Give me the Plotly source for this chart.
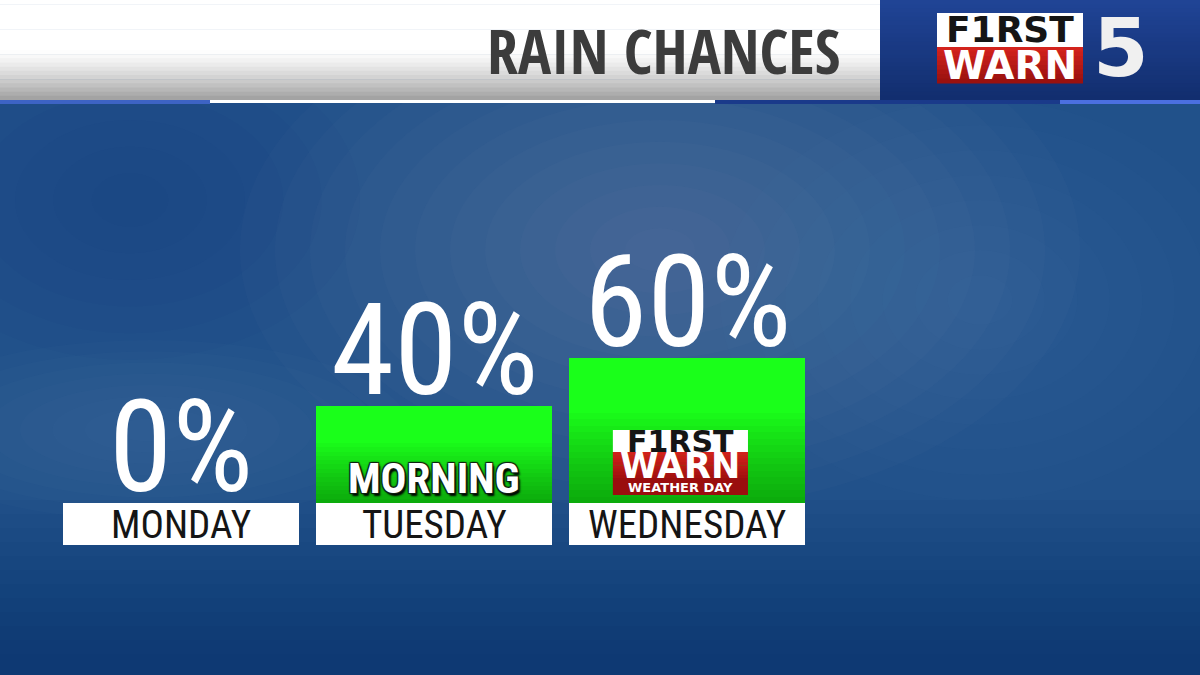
import plotly.graph_objects as go

# ---------------- data ----------------
days = ["MONDAY", "TUESDAY", "WEDNESDAY"]
chance = [0, 40, 60]
notes = ["", "MORNING", ""]
first_warn_day = [False, False, True]
title = "RAIN CHANCES"

# ---------------- geometry / styles ----------------
W, H = 1200, 675
PX_PER_X = 253.0          # pixels per category step
X0_PX = 181.0             # pixel of first category centre
PX_PER_Y = 2.42           # pixels per percent
BASE_PX = 503.0           # pixel row of 0 %
X_RANGE = [-X0_PX / PX_PER_X, (W - X0_PX) / PX_PER_X]
Y_RANGE = [-(H - BASE_PX) / PX_PER_Y, BASE_PX / PX_PER_Y]
BAR_W = 236.0 / PX_PER_X
LABEL_H = 42.0 / PX_PER_Y

COND = "Roboto Condensed, DejaVu Sans Condensed, sans-serif"
TITLE_FONT = "Open Sans Condensed, Roboto Condensed, sans-serif"
LOGO = "DejaVu Sans, Verdana, sans-serif"
GREEN = "#1aff1a"


def px(x):
    return x / W


def py(y):
    return 1 - y / H


def mix(c1, c2, t):
    return "rgb(%d,%d,%d)" % tuple(round(a + (b - a) * t) for a, b in zip(c1, c2))


fig = go.Figure()

# white day-label boxes
fig.add_trace(go.Bar(
    x=days, y=[LABEL_H] * len(days), base=[-LABEL_H] * len(days),
    width=BAR_W, marker=dict(color="white", line=dict(width=0)),
    hoverinfo="skip", showlegend=False))

# green rain-chance bars
fig.add_trace(go.Bar(
    x=days, y=chance, width=BAR_W,
    marker=dict(color=GREEN, line=dict(width=0)),
    hoverinfo="skip", showlegend=False))

# darkening toward the bottom of each green bar (overlapping translucent bars)
N = 14
for k in range(N):
    frac = 0.62 * (k + 1) / N
    fig.add_trace(go.Bar(
        x=days, y=[v * frac for v in chance], width=BAR_W,
        marker=dict(color="rgba(8,60,8,0.035)", line=dict(width=0)),
        hoverinfo="skip", showlegend=False))

shapes = []
annotations = []


def soft_blob(cx, cy, rx, ry, rgb, alpha, steps):
    for s in range(steps):
        f = 1 - s / steps
        shapes.append(dict(type="circle", xref="paper", yref="paper", layer="below",
                           x0=px(cx - rx * f), x1=px(cx + rx * f),
                           y0=py(cy + ry * f), y1=py(cy - ry * f),
                           fillcolor="rgba(%d,%d,%d,%.3f)" % (rgb + (alpha,)),
                           line=dict(width=0)))


# ---------------- background ----------------
soft_blob(660, 250, 420, 260, (150, 175, 205), 0.03, 12)
soft_blob(150, 430, 260, 90, (140, 165, 200), 0.025, 8)
soft_blob(980, 300, 260, 200, (120, 150, 190), 0.02, 8)
soft_blob(130, 200, 230, 160, (15, 55, 120), 0.04, 6)
for i in range(12):
    y0 = 500 + i * 14
    shapes.append(dict(type="rect", xref="paper", yref="paper", layer="below",
                       x0=0, x1=1, y0=0, y1=py(y0),
                       fillcolor="rgba(5,35,95,0.05)", line=dict(width=0)))

# ---------------- header ----------------
n_strip = 24
for i in range(n_strip):
    y0 = i * 100 / n_strip
    y1 = (i + 1) * 100 / n_strip + 0.6
    t = (i + 0.5) / n_strip
    g = 255 if t < 0.5 else 255 - (255 - 158) * ((t - 0.5) / 0.5) ** 1.3
    shapes.append(dict(type="rect", xref="paper", yref="paper", layer="above",
                       x0=0, x1=px(880), y0=py(min(y1, 100)), y1=py(y0),
                       fillcolor="rgb(%d,%d,%d)" % (g, g, g), line=dict(width=0)))
    shapes.append(dict(type="rect", xref="paper", yref="paper", layer="above",
                       x0=px(880), x1=1, y0=py(min(y1, 100)), y1=py(y0),
                       fillcolor=mix((32, 68, 150), (18, 46, 110), t), line=dict(width=0)))

for x0, x1, y1, col in [(0, 210, 104, "#3d63c4"), (210, 715, 103, "#ffffff"),
                        (715, 1060, 104, "#1a3a8a"), (1060, 1200, 104, "#4b6fe0")]:
    shapes.append(dict(type="rect", xref="paper", yref="paper", layer="above",
                       x0=px(x0), x1=px(x1), y0=py(y1), y1=py(100),
                       fillcolor=col, line=dict(width=0)))

annotations.append(dict(xref="paper", yref="paper", x=px(842), y=py(50),
                        xanchor="right", yanchor="middle", showarrow=False,
                        text=title,
                        font=dict(family=TITLE_FONT, size=62, color="#3c3c3c", weight="bold")))

# top-right logo
shapes.append(dict(type="rect", xref="paper", yref="paper", layer="above",
                   x0=px(937), x1=px(1083), y0=py(47), y1=py(13),
                   fillcolor="white", line=dict(width=0)))
for i in range(8):
    t = (i + 0.5) / 8
    shapes.append(dict(type="rect", xref="paper", yref="paper", layer="above",
                       x0=px(937), x1=px(1083), y0=py(47 + (i + 1) * 4.5 + 0.5),
                       y1=py(47 + i * 4.5), fillcolor=mix((214, 36, 30), (150, 16, 14), t),
                       line=dict(width=0)))
annotations.append(dict(xref="paper", yref="paper", x=px(1010), y=py(30),
                        xanchor="center", yanchor="middle", showarrow=False, text="F1RST",
                        font=dict(family=LOGO, size=36, color="#151515", weight="bold")))
annotations.append(dict(xref="paper", yref="paper", x=px(1010), y=py(66),
                        xanchor="center", yanchor="middle", showarrow=False, text="WARN",
                        font=dict(family=LOGO, size=39, color="white", weight="bold")))
annotations.append(dict(xref="paper", yref="paper", x=px(1121), y=py(48),
                        xanchor="center", yanchor="middle", showarrow=False, text="5",
                        font=dict(family=LOGO, size=80, color="#f0f0f0", weight="bold")))

# ---------------- bar texts ----------------
for d, v, note, fw in zip(days, chance, notes, first_warn_day):
    annotations.append(dict(x=d, y=v, xref="x", yref="y", yanchor="bottom",
                            xanchor="center", showarrow=False, text=f"{v}%",
                            yshift=-21,
                            font=dict(family=COND, size=128, color="white", weight=400)))
    annotations.append(dict(x=d, y=-LABEL_H / 2, xref="x", yref="y", yanchor="middle",
                            xanchor="center", showarrow=False, text=d, yshift=-1,
                            font=dict(family=COND, size=39, color="#151515")))
    if note:
        annotations.append(dict(x=d, y=(BASE_PX - 477.5) / PX_PER_Y, xref="x", yref="y",
                                yanchor="middle", xanchor="center", showarrow=False,
                                text=note,
                                font=dict(family=COND, size=43, color="white", weight="bold",
                                          shadow="1px 1px 1px #102010, -1px -1px 1px #102010, "
                                                 "1px -1px 1px #102010, -1px 1px 1px #102010, "
                                                 "2px 3px 2px #000000")))
    if fw:
        i = days.index(d)
        cx = i - 0.026
        hw = 0.267
        yd = lambda p: (BASE_PX - p) / PX_PER_Y
        shapes.append(dict(type="rect", xref="x", yref="y", layer="above",
                           x0=cx - hw, x1=cx + hw, y0=yd(452), y1=yd(430),
                           fillcolor="white", line=dict(width=0)))
        for j in range(8):
            t = (j + 0.5) / 8
            shapes.append(dict(type="rect", xref="x", yref="y", layer="above",
                               x0=cx - hw, x1=cx + hw, y0=yd(452 + (j + 1) * 3.3 + 0.4),
                               y1=yd(452 + j * 3.3), fillcolor=mix((212, 34, 28), (160, 16, 14), t),
                               line=dict(width=0)))
        shapes.append(dict(type="rect", xref="x", yref="y", layer="above",
                           x0=cx - hw, x1=cx + hw, y0=yd(495), y1=yd(478),
                           fillcolor="#9a0e0e", line=dict(width=0)))
        annotations.append(dict(x=cx, y=yd(441), xref="x", yref="y", showarrow=False,
                                xanchor="center", yanchor="middle", text="F1RST",
                                font=dict(family=LOGO, size=30, color="#151515", weight="bold")))
        annotations.append(dict(x=cx, y=yd(466), xref="x", yref="y", showarrow=False,
                                xanchor="center", yanchor="middle", text="WARN",
                                font=dict(family=LOGO, size=35, color="white", weight="bold")))
        annotations.append(dict(x=cx, y=yd(487), xref="x", yref="y", showarrow=False,
                                xanchor="center", yanchor="middle", text="WEATHER DAY",
                                font=dict(family=LOGO, size=13, color="white", weight="bold")))

fig.update_layout(
    width=W, height=H,
    margin=dict(l=0, r=0, t=0, b=0),
    paper_bgcolor="#21518a",
    plot_bgcolor="rgba(0,0,0,0)",
    barmode="overlay",
    bargap=0,
    showlegend=False,
    xaxis=dict(type="category", range=X_RANGE, visible=False, fixedrange=True),
    yaxis=dict(range=Y_RANGE, visible=False, fixedrange=True),
    shapes=shapes,
    annotations=annotations,
)

fig.write_html("out.html", config={"displayModeBar": False},
               post_script="document.body.style.margin='0';")
